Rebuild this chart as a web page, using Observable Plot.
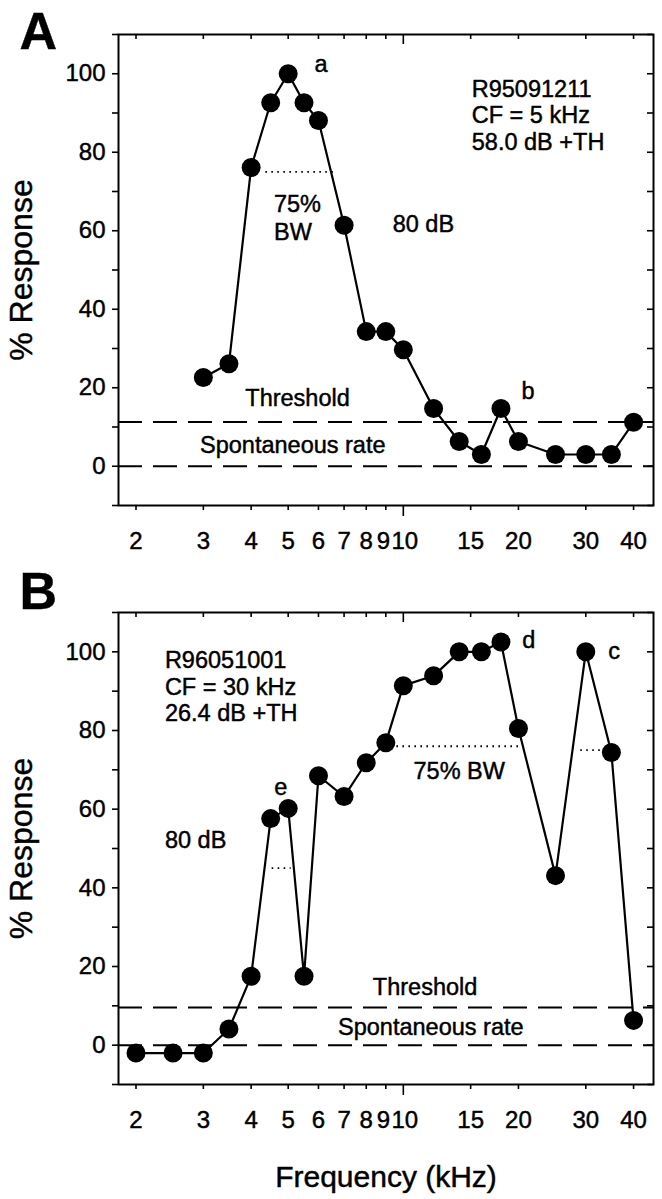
<!DOCTYPE html>
<html>
<head>
<meta charset="utf-8">
<script src="https://cdn.jsdelivr.net/npm/d3@7"></script>
<script src="https://cdn.jsdelivr.net/npm/@observablehq/plot@0.6"></script>
<style>
  body { margin: 0; background: #fff; }
  #chart { width: 662px; height: 1199px; position: relative; background: #fff; }
  #chart svg { display: block; }
  #chart svg text { stroke: #000; stroke-width: 0.45px; }
</style>
</head>
<body>
<div id="chart"></div>
<script>
// ---- Data ----
const freqA = [3, 3.5, 4, 4.5, 5, 5.5, 6, 7, 8, 9, 10, 12, 14, 16, 18, 20, 25, 30, 35, 40];
const respA = [22.6, 26.1, 76.1, 92.6, 100, 92.6, 88.1, 61.4, 34.3, 34.3, 29.7, 14.7, 6.3, 3.0, 14.7, 6.3, 3.0, 3.0, 3.0, 11.2];
const thresholdA = 11.3;

const freqB = [2, 2.5, 3, 3.5, 4, 4.5, 5, 5.5, 6, 7, 8, 9, 10, 12, 14, 16, 18, 20, 25, 30, 35, 40];
const respB = [-2, -2, -2, 4.1, 17.5, 57.6, 60.2, 17.5, 68.5, 63.2, 71.8, 76.9, 91.4, 93.9, 100, 100, 102.5, 80.5, 43.1, 100, 74.4, 6.3];
const thresholdB = 9.6;

const spontaneous = 0;
const xTickValues = [2, 3, 4, 5, 6, 7, 8, 9, 10, 15, 20, 30, 40];
const yTickValues = [-10, 0, 10, 20, 30, 40, 50, 60, 70, 80, 90, 100, 110];
const yLabelValues = [0, 20, 40, 60, 80, 100];

const infoA = ["R95091211", "CF = 5 kHz", "58.0 dB +TH"];
const infoB = ["R96051001", "CF = 30 kHz", "26.4 dB +TH"];

// ---- Layout ----
const FONT = "'Liberation Sans', Arial, Helvetica, sans-serif";
const W = 662, ML = 118, MR = 9;

function panel(cfg) {
  const rows = cfg.freq.map((f, i) => ({f, r: cfg.resp[i]}));
  const frameW = W - ML - MR;
  const frameH = cfg.height - cfg.marginTop - cfg.marginBottom;
  const minorX = xTickValues.filter(d => d !== 10);
  const txt = (text, x, y, o = {}) =>
    Plot.text([text], {x: () => x, y: () => y, fontSize: 23.5, textAnchor: "middle", lineAnchor: "middle", ...o});
  const xLabel = (vals, dx) =>
    Plot.text(vals, {x: d => d, frameAnchor: "bottom", dy: 36, dx, text: d => String(d),
      fontSize: 24, lineAnchor: "middle", textAnchor: "middle"});
  return Plot.plot({
    width: W,
    height: cfg.height,
    marginTop: cfg.marginTop,
    marginBottom: cfg.marginBottom,
    marginLeft: ML,
    marginRight: MR,
    style: {fontFamily: FONT, fontSize: "24px", background: "#fff", color: "#000", overflow: "visible"},
    x: {type: "log", domain: [1.8, 45.1]},
    y: {domain: [-10, 110]},
    marks: [
      Plot.ruleY([cfg.threshold, spontaneous], {stroke: "#000", strokeWidth: 2, strokeDasharray: "24,11"}),
      Plot.ruleY(cfg.dotted, {y: "y", x1: "x1", x2: "x2", stroke: "#000", strokeWidth: 1.8, strokeDasharray: "1.6,4.4"}),
      Plot.line(rows, {x: "f", y: "r", stroke: "#000", strokeWidth: 2.2}),
      Plot.dot(rows, {x: "f", y: "r", r: 9.5, fill: "#000", stroke: "none"}),
      Plot.frame({stroke: "#000", strokeWidth: 2}),
      // left axis (outward ticks)
      Plot.axisY({ticks: yTickValues, tickSize: 6, tickPadding: 7, strokeWidth: 1.6,
        tickFormat: d => yLabelValues.includes(d) ? String(d) : "", fontSize: 24, label: null}),
      // right inward ticks
      Plot.ruleY(yTickValues, {y: d => d, insetLeft: frameW - 6, stroke: "#000", strokeWidth: 1.6}),
      // bottom axis ticks (outward), 10 longer
      Plot.axisX({ticks: minorX, tickSize: 5, strokeWidth: 1.6, tickFormat: () => "", label: null}),
      Plot.axisX({ticks: [10], tickSize: 11, strokeWidth: 1.6, tickFormat: () => "", label: null}),
      // bottom tick labels ("9" and "10" sit tight together, as in the original)
      xLabel(xTickValues.filter(d => d !== 9 && d !== 10), 0),
      xLabel([9], -2.5),
      xLabel([10], 1.5),
      // top inward ticks
      Plot.ruleX(minorX, {x: d => d, insetBottom: frameH - 5, stroke: "#000", strokeWidth: 1.6}),
      Plot.ruleX([10], {x: d => d, insetBottom: frameH - 10, stroke: "#000", strokeWidth: 1.6}),
      // y label
      Plot.text(["% Response"], {frameAnchor: "left", dx: -97, rotate: -90, fontSize: 32,
        textAnchor: "middle", lineAnchor: "middle"}),
      // panel letter
      Plot.text([cfg.letter], {frameAnchor: "top-left", dx: -99, dy: cfg.letterDy, fontSize: 52,
        fontWeight: "bold", textAnchor: "start", lineAnchor: "bottom"}),
      // info block
      txt(cfg.info.join("\n"), cfg.infoX, cfg.infoY, {textAnchor: "start", lineAnchor: "top", lineHeight: 1.13}),
      ...cfg.texts.map(t => txt(t[0], t[1], t[2], t[3] || {})),
      ...(cfg.extra || [])
    ]
  });
}

const chart = document.getElementById("chart");

const svgA = panel({
  freq: freqA, resp: respA, threshold: thresholdA,
  height: 580, marginTop: 34, marginBottom: 75,
  letter: "A", letterDy: 14,
  info: infoA, infoX: 15.1, infoY: 98.9,
  dotted: [{y: 75, x1: 4.37, x2: 6.57}],
  texts: [
    ["a", 6.09, 102.3],
    ["75%\nBW", 4.59, 63.6, {textAnchor: "start", lineHeight: 1.2}],
    ["80 dB", 9.38, 61.7, {textAnchor: "start"}],
    ["b", 21.2, 19.0],
    ["Threshold", 5.29, 17.3],
    ["Spontaneous rate", 5.14, 5.3]
  ]
});

const svgB = panel({
  freq: freqB, resp: respB, threshold: thresholdB,
  height: 619, marginTop: 32, marginBottom: 115,
  letter: "B", letterDy: -4,
  info: infoB, infoX: 2.38, infoY: 100.6,
  dotted: [{y: 45, x1: 4.54, x2: 5.09}, {y: 76, x1: 9.62, x2: 20.4}, {y: 75, x1: 29.1, x2: 33.4}],
  texts: [
    ["80 dB", 2.38, 52, {textAnchor: "start"}],
    ["e", 4.78, 65.5],
    ["d", 21.3, 102.8],
    ["c", 35.6, 100],
    ["75% BW", 14.0, 69.5],
    ["Threshold", 11.4, 14.7],
    ["Spontaneous rate", 11.8, 4.6]
  ],
  extra: [
    Plot.text(["Frequency (kHz)"], {frameAnchor: "bottom", dy: 93, fontSize: 30, lineAnchor: "middle"})
  ]
});

chart.appendChild(svgA);
chart.appendChild(svgB);
</script>
</body>
</html>
